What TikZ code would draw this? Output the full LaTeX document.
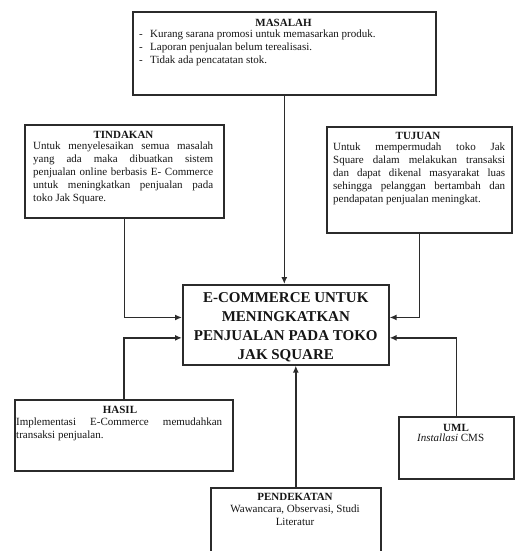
\documentclass[tikz,border=0pt]{standalone}
\usepackage{fontspec}
\setmainfont{Liberation Serif}
\usetikzlibrary{arrows.meta,calc}
\definecolor{ln}{HTML}{2B2B2B}
\definecolor{tx}{HTML}{151515}
\tikzset{
  box/.style={draw=ln, line width=1.6pt, rectangle, inner sep=0pt, anchor=north west},
  conn/.style={draw=ln, line width=1.6pt, -{Latex[length=7pt,width=6pt]}},
  body/.style={text=tx, font=\fontsize{11}{13}\selectfont, inner sep=0pt, align=justify},
  ttl/.style={text=tx, font=\fontsize{11}{13}\selectfont\bfseries, inner sep=0pt},
  big/.style={text=tx, font=\fontsize{15}{19}\selectfont\bfseries, inner sep=0pt, align=center},
}
\begin{document}
\begin{tikzpicture}[x=1pt,y=-1pt]
\useasboundingbox (0,0) rectangle (514,551);
% boxes
\node[box, minimum width=303pt, minimum height=83pt] (mas) at (132,11) {};
\node[box, minimum width=199pt, minimum height=93pt] (tin) at (24,124) {};
\node[box, minimum width=185pt, minimum height=106pt] (tuj) at (326,126) {};
\node[box, minimum width=206pt, minimum height=80pt] (cen) at (182,284) {};
\node[box, minimum width=218pt, minimum height=71pt] (has) at (14,399) {};
\node[box, minimum width=115pt, minimum height=62pt] (uml) at (398,416) {};
\node[box, minimum width=170pt, minimum height=75pt] (pen) at (210,487) {};
% texts
\node[ttl] (masT) at (283.5,23) {MASALAH};
\node[body, align=left, anchor=north west] (masB) at (139,30)
  {\makebox[11pt][l]{-}Kurang sarana promosi untuk memasarkan produk.\\
   \makebox[11pt][l]{-}Laporan penjualan belum terealisasi.\\
   \makebox[11pt][l]{-}Tidak ada pencatatan stok.};
\node[ttl] (tinT) at (123.5,135) {TINDAKAN};
\node[body, text width=180pt, anchor=north west] (tinB) at (33,142)
  {Untuk menyelesaikan semua masalah\linebreak
   yang ada maka dibuatkan sistem\linebreak
   penjualan online berbasis E- Commerce\linebreak
   untuk meningkatkan penjualan pada\linebreak
   toko Jak Square.};
\node[ttl] (tujT) at (418,136) {TUJUAN};
\node[body, text width=172pt, anchor=north west] (tujB) at (333,143)
  {Untuk mempermudah toko Jak\linebreak
   Square dalam melakukan transaksi\linebreak
   dan dapat dikenal masyarakat luas\linebreak
   sehingga pelanggan bertambah dan\linebreak
   pendapatan penjualan meningkat.};
\node[big] (cenT) at ($(cen.center)+(0,2)$) {E-COMMERCE UNTUK\\MENINGKATKAN\\PENJUALAN PADA TOKO\\JAK SQUARE};
\node[ttl] (hasT) at (120,410) {HASIL};
\node[body, text width=206pt, anchor=north west] (hasB) at (16,418)
  {Implementasi E-Commerce memudahkan\linebreak
   transaksi penjualan.};
\node[ttl] (umlT) at (456,428) {UML};
\node[body, align=left, anchor=north west] (umlB) at (417,434) {\textit{Installasi} CMS};
\node[ttl] (penT) at (295,497) {PENDEKATAN};
\node[body, align=center, anchor=north] (penB) at (295,505) {Wawancara, Observasi, Studi\\Literatur};
% anchor points on the centre box
\coordinate (cw1) at ($(cen.north west)!0.41!(cen.south west)$);
\coordinate (cw2) at ($(cen.north west)!0.66!(cen.south west)$);
\coordinate (ce1) at ($(cen.north east)!0.41!(cen.south east)$);
\coordinate (ce2) at ($(cen.north east)!0.66!(cen.south east)$);
% connectors
\draw[conn] (mas.south) -- (mas.south |- cen.north);
\draw[conn] (tin.south) |- (cw1);
\draw[conn] (has.north) |- (cw2);
\draw[conn] (tuj.south) |- (ce1);
\draw[conn] (uml.north) |- (ce2);
\draw[conn] (pen.north) -- (pen.north |- cen.south);
\end{tikzpicture}
\end{document}
